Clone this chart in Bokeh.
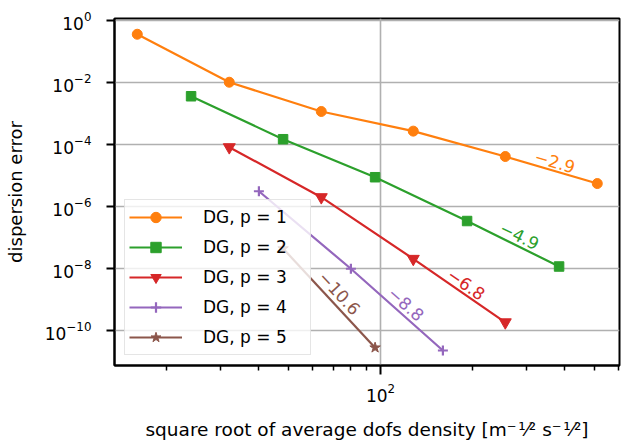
import math
from bokeh.plotting import figure
from bokeh.models import Range1d, FixedTicker, LogTickFormatter, Label, Legend, LegendItem
from bokeh.embed import file_html
from bokeh.resources import INLINE

# ---------------- data ----------------
dofs_p1 = [16, 32, 64, 128, 256, 512]
err_p1 = [3.6e-1, 1.02e-2, 1.16e-3, 2.7e-4, 4.1e-5, 5.5e-6]
dofs_p2 = [24, 48, 96, 192, 384]
err_p2 = [3.6e-3, 1.48e-4, 8.8e-6, 3.4e-7, 1.16e-8]
dofs_p3 = [32, 64, 128, 256]
err_p3 = [8.2e-5, 2.0e-6, 2.05e-8, 1.84e-10]
dofs_p4 = [40, 80, 160]
err_p4 = [3.1e-6, 9.8e-9, 2.26e-11]
dofs_p5 = [48, 96]
err_p5 = [4.4e-8, 2.8e-11]

series_labels = ["DG, p = 1", "DG, p = 2", "DG, p = 3", "DG, p = 4", "DG, p = 5"]
slope_labels = ["\u22122.9", "\u22124.9", "\u22126.8", "\u22128.8", "\u221210.6"]

x_major_ticks = [100]
x_minor_ticks = [20, 30, 40, 50, 60, 70, 80, 90, 200, 300, 400, 500, 600]
y_major_ticks = [1, 1e-2, 1e-4, 1e-6, 1e-8, 1e-10]

x_title = ("square root of average dofs density "
           "[m\u207b\u200a\u00b9\u2044\u00b2 s\u207b\u200a\u00b9\u2044\u00b2]")
y_title = "dispersion error"

# ---------------- styles ----------------
colors = ["#ff7f0e", "#2ca02c", "#d62728", "#9467bd", "#8c564b"]
markers = ["circle", "square", "inverted_triangle", "cross", "star"]
marker_sizes = [10, 9.5, 12, 10, 11]
slope_offsets = [(3.7, 8.5), (6.6, 8.3), (7.2, 6.5), (9.3, 5.7), (10.6, 5.2)]
FONT = "DejaVu Sans"

FW, FH = 505, 347
x_lo, x_hi = 10 ** 1.1296, 10 ** 2.782
y_lo, y_hi = 10 ** -11.129, 10 ** 0.0645

p = figure(frame_width=FW, frame_height=FH,
           x_axis_type="log", y_axis_type="log",
           x_range=Range1d(x_lo, x_hi), y_range=Range1d(y_lo, y_hi),
           output_backend="svg", toolbar_location=None,
           min_border_left=114, min_border_right=15,
           min_border_top=18, min_border_bottom=77)

p.background_fill_color = "white"
p.border_fill_color = "white"
p.outline_line_color = "black"
p.outline_line_width = 2
p.outline_line_alpha = 1.0

p.xaxis.ticker = FixedTicker(ticks=x_major_ticks, minor_ticks=x_minor_ticks)
p.yaxis.ticker = FixedTicker(ticks=y_major_ticks, minor_ticks=[])
p.xaxis.formatter = LogTickFormatter()
p.yaxis.formatter = LogTickFormatter()

for ax in (p.xaxis, p.yaxis):
    ax.axis_line_color = "black"
    ax.axis_line_width = 2
    ax.major_tick_line_color = "black"
    ax.major_tick_line_width = 2
    ax.major_tick_in = 0
    ax.minor_tick_in = 0
    ax.major_label_text_font = FONT
    ax.major_label_text_font_size = "17px"
    ax.major_label_text_color = "black"
    ax.axis_label_text_font = FONT
    ax.axis_label_text_font_style = "normal"
    ax.axis_label_text_color = "black"
p.xaxis.axis_label_text_font_size = "18.5px"
p.yaxis.axis_label_text_font_size = "18px"
p.xaxis.major_tick_out = 9
p.xaxis.minor_tick_out = 5
p.xaxis.minor_tick_line_color = "black"
p.xaxis.minor_tick_line_width = 1.5
p.yaxis.major_tick_out = 8
p.yaxis.minor_tick_line_color = None
p.xaxis.major_label_standoff = 8
p.yaxis.major_label_standoff = 15

p.xaxis.axis_label = x_title
p.yaxis.axis_label = y_title
p.xaxis.axis_label_standoff = 14
p.yaxis.axis_label_standoff = 16

for g in (p.xgrid, p.ygrid):
    g.grid_line_color = "#b0b0b0"
    g.grid_line_width = 1.6

all_x = [dofs_p1, dofs_p2, dofs_p3, dofs_p4, dofs_p5]
all_y = [err_p1, err_p2, err_p3, err_p4, err_p5]

items = []
for xs, ys, lab, col, mk, ms in zip(all_x, all_y, series_labels, colors, markers, marker_sizes):
    lr = p.line(xs, ys, line_color=col, line_width=2.2)
    if mk == "cross":
        sr = p.scatter(xs, ys, marker=mk, size=ms, line_color=col, line_width=2.2)
    else:
        sr = p.scatter(xs, ys, marker=mk, size=ms, fill_color=col, line_color=col, line_width=1)
    items.append(LegendItem(label=lab, renderers=[lr, sr]))

# slope annotations along the last segment of each series
kx = FW / (math.log10(x_hi) - math.log10(x_lo))
ky = FH / (math.log10(y_hi) - math.log10(y_lo))
for xs, ys, txt, col, (ox, oy) in zip(all_x, all_y, slope_labels, colors, slope_offsets):
    xm = math.sqrt(xs[-2] * xs[-1])
    ym = math.sqrt(ys[-2] * ys[-1])
    dx = (math.log10(xs[-1]) - math.log10(xs[-2])) * kx
    dy = (math.log10(ys[-1]) - math.log10(ys[-2])) * ky
    ang = math.atan2(dy, dx)
    p.add_layout(Label(x=xm, y=ym, text=txt, angle=ang, x_offset=ox, y_offset=oy,
                       text_align="center", text_baseline="middle",
                       text_color=col, text_font=FONT, text_font_size="17px"))

legend = Legend(items=items, location="bottom_left", margin=10, padding=4, spacing=4,
                glyph_width=53, glyph_height=26, label_height=26,
                label_standoff=21, label_width=103,
                label_text_font=FONT, label_text_font_size="17px",
                label_text_color="black",
                border_line_color="#cccccc", border_line_width=1,
                background_fill_color="white", background_fill_alpha=0.8)
p.add_layout(legend)

open("out.html", "w").write(file_html(p, INLINE, title="dispersion error"))
